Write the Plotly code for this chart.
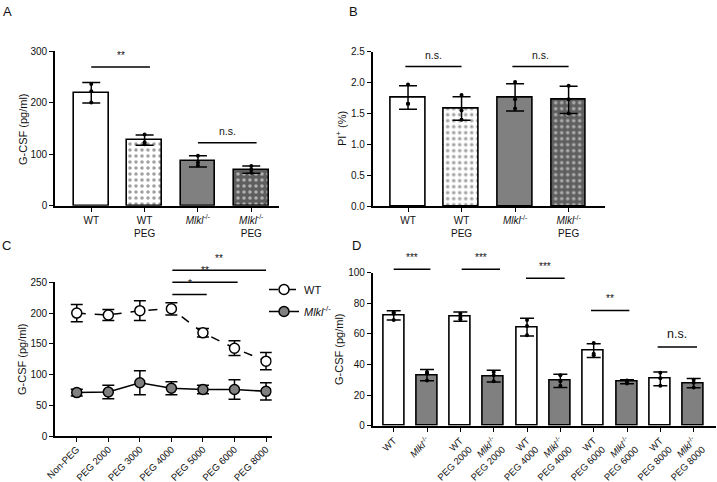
import plotly.graph_objects as go

W, H = 717, 482
FONT = "Liberation Sans, Arial, Helvetica, sans-serif"
MLKL = "<i>Mlkl</i><sup>-/-</sup>"

# ---------------- data ----------------
# Panel A : G-CSF (pg/ml)
a_labels = ["WT", "WT<br>PEG", MLKL, MLKL + "<br>PEG"]
a_means = [219, 127, 86, 70]
a_sd = [20, 10, 11, 7]
a_points = [[200, 222, 236], [119, 123, 138], [78, 84, 97], [64, 70, 77]]

# Panel B : PI+ (%)
b_labels = ["WT", "WT<br>PEG", MLKL, MLKL + "<br>PEG"]
b_means = [1.76, 1.58, 1.76, 1.72]
b_sd = [0.19, 0.19, 0.22, 0.22]
b_points = [[1.66, 1.66, 1.97], [1.40, 1.55, 1.80], [1.58, 1.73, 2.01], [1.50, 1.73, 1.95]]

# Panel C : G-CSF (pg/ml) vs PEG size
c_labels = ["Non-PEG", "PEG 2000", "PEG 3000", "PEG 4000", "PEG 5000", "PEG 6000", "PEG 8000"]
c_wt = [200, 197, 204, 207, 168, 143, 122]
c_wt_sd = [14, 9, 16, 10, 7, 12, 14]
c_mlkl = [71, 72, 87, 78, 76, 76, 73]
c_mlkl_sd = [5.5, 11, 19.5, 10.5, 7, 16, 14]

# Panel D : G-CSF (pg/ml)
d_labels = ["WT", MLKL,
            "WT<br>PEG 2000", MLKL + "<br>PEG 2000",
            "WT<br>PEG 4000", MLKL + "<br>PEG 4000",
            "WT<br>PEG 6000", MLKL + "<br>PEG 6000",
            "WT<br>PEG 8000", MLKL + "<br>PEG 8000"]
d_means = [72, 33, 71.2, 32.4, 64.3, 29.3, 49, 28.7, 30.5, 27.8]
d_sd = [3, 3.7, 3, 3.8, 5.8, 4.3, 4.5, 1.3, 4.5, 3]
d_points = [[69, 73, 74], [29.5, 34, 35], [69.5, 71, 73], [29, 33, 35],
            [59, 65, 69], [26, 29, 33], [46, 47, 54], [27.5, 28.5, 29.5],
            [26, 31, 34.5], [25, 28, 30]]

# significance markers: (x0, x1, y, text)
a_sig = [(0, 1.1, 269, "**"), (2, 3.1, 122, "n.s.")]
b_sig = [(-0.05, 1.0, 2.26, "n.s."), (1.95, 3.0, 2.26, "n.s.")]
c_sig = [(3.03, 6.0, 269.5, "**"), (3.03, 5.1, 250, "**"), (3.03, 4.12, 230, "*")]
d_sig = [(0, 1.1, 102.2, "***"), (2.04, 3.19, 102.2, "***"), (3.97, 5.13, 96.3, "***"),
         (5.92, 7.07, 75.2, "**"), (7.92, 9.1, 51.4, "n.s.")]

A_RANGE, B_RANGE, C_RANGE, D_RANGE = [0, 300], [0, 2.5], [0, 250], [0, 100]
A_XR, B_XR, C_XR, D_XR = [-0.68, 3.52], [-0.66, 3.68], [-0.69, 6.18], [-0.63, 9.67]

WHITE, GRAY, DGRAY = "#ffffff", "#808080", "#5e5e5e"
a_colors = [WHITE, WHITE, GRAY, DGRAY]
a_shapes = ["", ".", "", "."]
d_colors = [WHITE, GRAY] * 5


def px_dom(a, b):
    return [a / W, b / W]


def py_dom(top, bottom):
    return [1 - bottom / H, 1 - top / H]


A_XD, A_YD = px_dom(55, 279), py_dom(51, 205.7)
B_XD, B_YD = px_dom(372.7, 605), py_dom(51.7, 206.3)
C_XD, C_YD = px_dom(55, 271.7), py_dom(282.3, 436.3)
D_XD, D_YD = px_dom(372.7, 716), py_dom(272.5, 425.7)

fig = go.Figure()


def bar_panel(xa, ya, means, sd, points, colors, shapes, width, capw):
    n = len(means)
    fig.add_trace(go.Bar(
        x=list(range(n)), y=means, width=width, xaxis=xa, yaxis=ya,
        marker=dict(color=colors, line=dict(color="black", width=1.6),
                    pattern=dict(shape=shapes, fgcolor="black", size=6,
                                 solidity=0.28, fillmode="overlay")),
        error_y=dict(type="data", array=sd, color="black", thickness=1.5, width=capw),
        showlegend=False, hoverinfo="skip"))
    px, py = [], []
    for i, pts in enumerate(points):
        for v in pts:
            px.append(i)
            py.append(v)
    fig.add_trace(go.Scatter(x=px, y=py, mode="markers", xaxis=xa, yaxis=ya,
                             marker=dict(color="black", size=4),
                             showlegend=False, hoverinfo="skip"))


bar_panel("x", "y", a_means, a_sd, a_points, a_colors, a_shapes, 0.65, 9)
bar_panel("x2", "y2", b_means, b_sd, b_points, a_colors, a_shapes, 0.65, 9)
bar_panel("x4", "y4", d_means, d_sd, d_points, d_colors, [""] * 10, 0.63, 7)

# panel C lines
fig.add_trace(go.Scatter(
    x=list(range(7)), y=c_wt, xaxis="x3", yaxis="y3", mode="lines+markers", name="WT",
    legendgroup="wt",
    line=dict(color="black", width=1.5, dash="dash"),
    marker=dict(symbol="circle", size=10, color="white", line=dict(color="black", width=1.5)),
    error_y=dict(type="data", array=c_wt_sd, color="black", thickness=1.5, width=6)))
fig.add_trace(go.Scatter(
    x=list(range(7)), y=c_mlkl, xaxis="x3", yaxis="y3", mode="lines+markers", name=MLKL,
    legendgroup="mlkl",
    line=dict(color="black", width=1.5),
    marker=dict(symbol="circle", size=10, color=GRAY, line=dict(color="black", width=1.5)),
    error_y=dict(type="data", array=c_mlkl_sd, color="black", thickness=1.5, width=6)))


axis_common = dict(showline=True, linecolor="black", linewidth=1.6, ticks="outside",
                   ticklen=4, tickwidth=1.4, tickcolor="black", showgrid=False,
                   zeroline=False, automargin=False)
tf = dict(family=FONT, size=10, color="#111")
tf_c = dict(family=FONT, size=9.6, color="#111")
tf_d = dict(family=FONT, size=9.5, color="#111")
title_font = dict(family=FONT, size=11, color="#111")

fig.update_layout(
    width=W, height=H, margin=dict(l=0, r=0, t=0, b=0),
    paper_bgcolor="white", plot_bgcolor="white", template="none",
    font=dict(family=FONT, size=10, color="#111"),
    bargap=0,
    xaxis=dict(domain=A_XD, range=A_XR, anchor="y", tickfont=tf,
               tickvals=list(range(4)), ticktext=a_labels, **axis_common),
    yaxis=dict(domain=A_YD, range=A_RANGE, anchor="x", tickfont=tf,
               tickvals=[0, 100, 200, 300], **axis_common),
    xaxis2=dict(domain=B_XD, range=B_XR, anchor="y2", tickfont=tf,
                tickvals=list(range(4)), ticktext=b_labels, **axis_common),
    yaxis2=dict(domain=B_YD, range=B_RANGE, anchor="x2", tickfont=tf,
                tickvals=[0, 0.5, 1.0, 1.5, 2.0, 2.5], tickformat=".1f", **axis_common),
    xaxis3=dict(domain=C_XD, range=C_XR, anchor="y3", tickfont=tf_c,
                tickvals=list(range(7)), ticktext=c_labels, tickangle=-45,
                ticklabelstandoff=-2, **axis_common),
    yaxis3=dict(domain=C_YD, range=C_RANGE, anchor="x3", tickfont=tf,
                tickvals=[0, 50, 100, 150, 200, 250], **axis_common),
    xaxis4=dict(domain=D_XD, range=D_XR, anchor="y4", tickfont=tf_d,
                tickvals=list(range(10)), ticktext=d_labels, tickangle=-45, **axis_common),
    yaxis4=dict(domain=D_YD, range=D_RANGE, anchor="x4", tickfont=tf,
                tickvals=[0, 20, 40, 60, 80, 100], **axis_common),
    legend=dict(x=264 / W, y=1 - 275 / H, xanchor="left", yanchor="top",
                font=dict(family=FONT, size=11, color="#111"), itemwidth=30,
                bgcolor="rgba(0,0,0,0)", tracegroupgap=3),
)

shapes = []
annotations = []


def to_paper(v, rng, dom):
    return dom[0] + (v - rng[0]) / (rng[1] - rng[0]) * (dom[1] - dom[0])


def add_sig(sig, xa, ya, xr, yr, xd, yd_, size=10):
    for x0, x1, y, t in sig:
        yd = (y - yr[0]) / (yr[1] - yr[0])  # position within the axis domain
        shapes.append(dict(type="line", xref=xa, yref=ya + " domain", x0=x0, x1=x1, y0=yd, y1=yd,
                           line=dict(color="black", width=1.5)))
        fs = size if t != "n.s." else size + 0.5
        annotations.append(dict(x=to_paper((x0 + x1) / 2, xr, xd), y=to_paper(y, yr, yd_),
                                xref="paper", yref="paper", text=t,
                                showarrow=False, xanchor="center", yanchor="bottom", yshift=4,
                                font=dict(family=FONT, size=fs, color="#111")))


add_sig(a_sig, "x", "y", A_XR, A_RANGE, A_XD, A_YD)
add_sig(b_sig, "x2", "y2", B_XR, B_RANGE, B_XD, B_YD)
add_sig(c_sig, "x3", "y3", C_XR, C_RANGE, C_XD, C_YD)
add_sig(d_sig[:-1], "x4", "y4", D_XR, D_RANGE, D_XD, D_YD)
add_sig(d_sig[-1:], "x4", "y4", D_XR, D_RANGE, D_XD, D_YD, size=12)

# y-axis titles (placed beside each panel's axis)
for text, xc, yc in [("G-CSF (pg/ml)", 23, 129), ("PI<sup>+</sup> (%)", 341, 129),
                     ("G-CSF (pg/ml)", 22, 359), ("G-CSF (pg/ml)", 339, 349)]:
    annotations.append(dict(x=xc / W, y=1 - yc / H, xref="paper", yref="paper", text=text,
                            textangle=-90, showarrow=False, xanchor="center", yanchor="middle",
                            font=title_font))

for letter, x, ytop in [("A", 1, 2), ("B", 347, 2), ("C", 0, 236), ("D", 350, 236)]:
    annotations.append(dict(x=x / W, y=1 - ytop / H, xref="paper", yref="paper",
                            text=letter, showarrow=False, xanchor="left", yanchor="top",
                            font=dict(family=FONT, size=13, color="#111")))

fig.update_layout(shapes=shapes, annotations=annotations)
fig.write_html("out.html", config={"displayModeBar": False},
               post_script="document.body.style.margin='0';")
